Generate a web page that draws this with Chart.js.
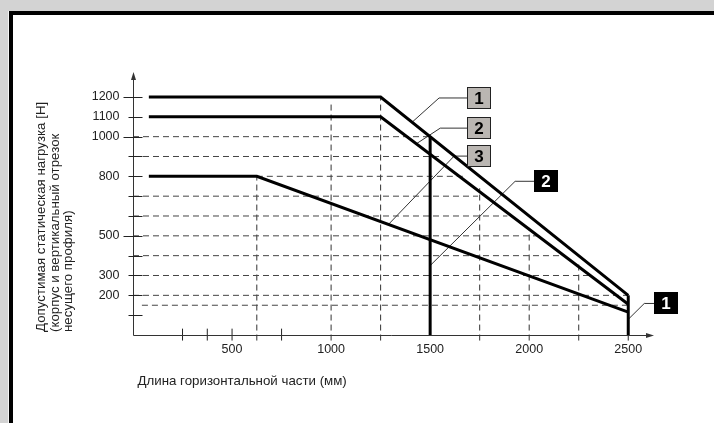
<!DOCTYPE html>
<html>
<head>
<meta charset="utf-8">
<script src="https://cdn.jsdelivr.net/npm/chart.js@4.4.1/dist/chart.umd.min.js"></script>
<style>
  html, body { margin: 0; padding: 0; }
  body { width: 714px; height: 423px; overflow: hidden; background: #d3d3d3; position: relative; }
  #frame { position: absolute; left: 9px; top: 11px; width: 800px; height: 500px; background: #fff; border: 4px solid #000; box-shadow: -1px 0 0 #f4f4f4; }
  #chart { position: absolute; left: 0; top: 0; }
</style>
</head>
<body>
<div id="frame"></div>
<canvas id="chart" width="714" height="423"></canvas>
<script>
// load curves (length mm -> load N)
const curve1X = [80, 1250, 2500];
const curve1Y = [1200, 1200, 200];
const curve2X = [80, 1250, 2500];
const curve2Y = [1100, 1100, 155];
const curve3X = [80, 625, 2500];
const curve3Y = [800, 800, 115];

// thick vertical limit lines
const limitX = [1500, 2500];
const limitTop = [1000, 200];

// dashed helper lines
const hGridY = [1000, 900, 800, 700, 600, 500, 400, 300, 200, 150];
const hGridFrom = [0, 0, 625, 0, 0, 0, 0, 0, 0, 45];
const hGridTo = [1500, 1560, 1667, 1742, 1890, 2045, 2180, 2315, 2500, 2500];
const vGridX = [625, 1000, 1250, 1750, 2000, 2250];
const vGridTop = [800, 1180, 1200, 740, 540, 365];

// axis ticks
const xTickLabels = [500, 1000, 1500, 2000, 2500];
const xMinorTicks = [250, 375, 500, 750, 2500];
const yTickLabels = [1200, 1100, 1000, 800, 500, 300, 200];
const yTickMarks = [1200, 1100, 1000, 900, 800, 700, 600, 500, 400, 300, 200, 100];
const yLongTicks = [1200, 1000, 500];

// numbered callouts: box sits at first leader point
const calloutText = ["1", "2", "3", "2", "1"];
const calloutDark = [false, false, false, true, true];
const leaderX = [[1687, 1545, 1409], [1687, 1551, 1430], [1687, 1621, 1290], [2025, 1929, 1495], [2631, 2581, 2495]];
const leaderY = [[1195, 1195, 1073], [1043, 1043, 964], [902, 902, 558], [775, 775, 345], [159, 159, 74]];

const yTitle = ["Допустимая статическая нагрузка [Н]", "(корпус и вертикальный отрезок", "несущего профиля)"];
const xTitle = "Длина горизонтальной части (мм)";

const FONT = "'Liberation Sans', Arial, sans-serif";

function pts(xs, ys) {
  return xs.map((v, i) => ({ x: v, y: ys[i] }));
}

const datasets = [];
[[curve1X, curve1Y], [curve2X, curve2Y], [curve3X, curve3Y]].forEach((c) => {
  datasets.push({ data: pts(c[0], c[1]), borderColor: "#000", borderWidth: 3, order: 0 });
});
limitX.forEach((v, i) => {
  datasets.push({ data: pts([v, v], [0, limitTop[i]]), borderColor: "#000", borderWidth: 3, order: 0 });
});
hGridY.forEach((v, i) => {
  datasets.push({ data: pts([hGridFrom[i], hGridTo[i]], [v, v]), borderColor: "#444", borderWidth: 1, borderDash: [6, 4], order: 5 });
});
vGridX.forEach((v, i) => {
  datasets.push({ data: pts([v, v], [-28, vGridTop[i]]), borderColor: "#333", borderWidth: 1, borderDash: [6, 4], order: 5 });
});
xMinorTicks.forEach((v) => {
  datasets.push({ data: pts([v, v], [-28, 32]), borderColor: "#222", borderWidth: 1, order: 4 });
});
leaderX.forEach((lx, i) => {
  datasets.push({ data: pts(lx, leaderY[i]), borderColor: "#333", borderWidth: 1, order: 3 });
});

const drawing = {
  id: "drawing",
  afterDatasetsDraw(chart) {
    const { ctx, chartArea: a, scales } = chart;
    const x = scales.x, y = scales.y;
    const x0 = Math.round(x.getPixelForValue(0)) + 0.5;
    const y0 = Math.round(y.getPixelForValue(0)) + 0.5;
    ctx.save();
    ctx.strokeStyle = "#333";
    ctx.fillStyle = "#333";
    ctx.lineWidth = 1;
    // axes with arrows
    ctx.beginPath();
    ctx.moveTo(x0, y0);
    ctx.lineTo(x0, a.top + 4);
    ctx.moveTo(x0, y0);
    ctx.lineTo(a.right - 4, y0);
    ctx.stroke();
    ctx.beginPath();
    ctx.moveTo(x0, a.top);
    ctx.lineTo(x0 - 2.5, a.top + 8);
    ctx.lineTo(x0 + 2.5, a.top + 8);
    ctx.closePath();
    ctx.fill();
    ctx.beginPath();
    ctx.moveTo(a.right, y0);
    ctx.lineTo(a.right - 8, y0 - 2.5);
    ctx.lineTo(a.right - 8, y0 + 2.5);
    ctx.closePath();
    ctx.fill();

    // y tick marks
    ctx.strokeStyle = "#222";
    yTickMarks.forEach((v) => {
      const py = Math.round(y.getPixelForValue(v)) + 0.5;
      const from = yLongTicks.includes(v) ? x0 - 10 : x0 - 5;
      ctx.beginPath();
      ctx.moveTo(from, py);
      ctx.lineTo(x0 + 9, py);
      ctx.stroke();
    });

    // tick labels
    ctx.fillStyle = "#222";
    ctx.font = "12.5px " + FONT;
    ctx.textAlign = "right";
    ctx.textBaseline = "middle";
    yTickLabels.forEach((v) => {
      ctx.fillText(String(v), x0 - 14, y.getPixelForValue(v));
    });
    ctx.textAlign = "center";
    xTickLabels.forEach((v) => {
      ctx.fillText(String(v), x.getPixelForValue(v), y0 + 14);
    });

    // titles
    ctx.font = "13.3px " + FONT;
    ctx.textAlign = "left";
    ctx.textBaseline = "middle";
    ctx.fillText(xTitle, x0 + 4, y0 + 46);
    ctx.textBaseline = "alphabetic";
    yTitle.forEach((t, i) => {
      ctx.save();
      ctx.translate(45 + i * 13.5, 332);
      ctx.rotate(-Math.PI / 2);
      ctx.fillText(t, 0, 0);
      ctx.restore();
    });

    // callout boxes
    ctx.font = "bold 17px " + FONT;
    ctx.textAlign = "center";
    ctx.textBaseline = "middle";
    calloutText.forEach((t, i) => {
      const bx = Math.round(x.getPixelForValue(leaderX[i][0]));
      const by = Math.round(y.getPixelForValue(leaderY[i][0]));
      const w = 24, h = 22;
      if (calloutDark[i]) {
        ctx.fillStyle = "#000";
        ctx.fillRect(bx, by - h / 2, w, h);
        ctx.fillStyle = "#fff";
      } else {
        ctx.fillStyle = "#bab6b2";
        ctx.fillRect(bx, by - h / 2, w, h);
        ctx.strokeStyle = "#222";
        ctx.strokeRect(bx + 0.5, by - h / 2 + 0.5, w - 1, h - 1);
        ctx.fillStyle = "#000";
      }
      ctx.fillText(t, bx + w / 2, by + 1);
    });
    ctx.restore();
  }
};

new Chart(document.getElementById("chart"), {
  type: "line",
  data: { datasets: datasets },
  options: {
    responsive: false,
    animation: false,
    events: [],
    layout: { padding: { left: 133, right: 60, top: 72, bottom: 88 } },
    datasets: { line: { pointRadius: 0, tension: 0, clip: false, fill: false } },
    scales: {
      x: { type: "linear", min: 0, max: 2630, display: false },
      y: { type: "linear", min: 0, max: 1326, display: false }
    },
    plugins: { legend: { display: false }, tooltip: { enabled: false } }
  },
  plugins: [drawing]
});
</script>
</body>
</html>
